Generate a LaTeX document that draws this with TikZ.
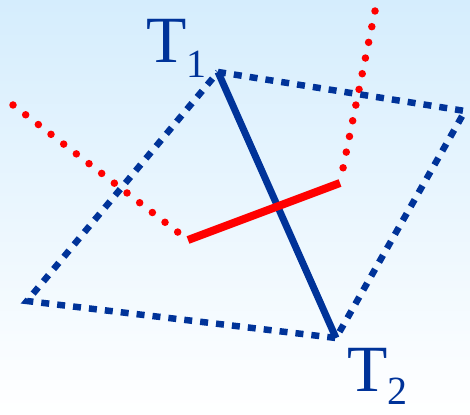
\documentclass[tikz,border=0pt]{standalone}
\usepackage{fontspec}
\setmainfont{Liberation Serif}
\usetikzlibrary{positioning}
\definecolor{tblue}{RGB}{0,51,153}
\definecolor{tred}{RGB}{255,0,0}
\definecolor{skyblue}{RGB}{213,237,253}

\begin{document}
\begin{tikzpicture}[x=1pt, y=-1pt,
    edge/.style={tblue, line width=6.5pt, dash pattern=on 8pt off 8pt},
    axis/.style={tblue, line width=7pt},
    link/.style={tred, line width=8pt},
    trail/.style={tred, line width=7.5pt, line cap=round, dash pattern=on 0pt off 16pt},
    lbl/.style={tblue, font=\fontsize{66}{66}\selectfont, inner sep=0pt, anchor=base west}
]
\shade[top color=skyblue, bottom color=white] (0,0) rectangle (470,414);
\useasboundingbox (0,0) rectangle (470,414);

% corners of the frame
\coordinate (T1) at (218,72);
\coordinate (R)  at (465,111);
\coordinate (T2) at (336,338);
\coordinate (L)  at (27,301);

% ends of the red bar and its trails
\coordinate (A) at (188,240);
\coordinate (B) at (340,183);
\coordinate (P) at (13,105);
\coordinate (Q) at (375,11);

\draw[trail] (P) -- (A);
\draw[trail] (Q) -- (B);

\draw[edge] (T1) -- (R) -- (T2) -- (L) -- cycle;
\draw[axis] (T1) -- (T2);
\draw[link] (A) -- (B);

\node[lbl] (labT1) at (146,63) {T\raisebox{-15pt}{\fontsize{40}{40}\selectfont 1}};
\node[lbl] (labT2) at (347,391) {T\raisebox{-13pt}{\fontsize{40}{40}\selectfont 2}};
\end{tikzpicture}
\end{document}
